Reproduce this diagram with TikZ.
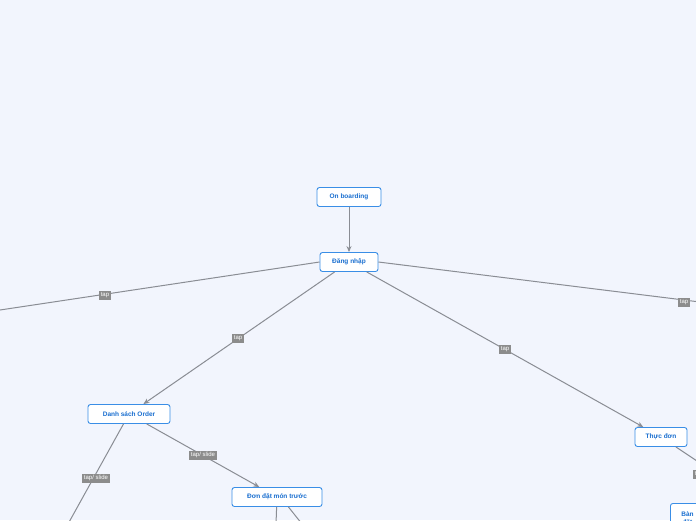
\documentclass[tikz,border=0pt]{standalone}
\usepackage{fontspec}
\setmainfont{Liberation Sans}
\usetikzlibrary{arrows.meta}
\definecolor{bg}{HTML}{F2F5FD}
\definecolor{nb}{HTML}{3A8EE6}
\definecolor{nt}{HTML}{1A6FD0}
\definecolor{ln}{HTML}{8A8D94}
\definecolor{lb}{HTML}{8C8C8C}
\tikzset{
 topic/.style={draw=nb,line width=0.9pt,fill=white,rounded corners=2.5pt,font=\fontsize{6.5}{7.5}\selectfont\bfseries,text=nt,inner sep=0pt,minimum height=19pt,align=center},
 conn/.style={draw=ln,line width=1pt},
 arr/.style={conn,-{Stealth[length=6pt,width=5pt]}},
 lab/.style={fill=lb,text=white,font=\fontsize{6}{7}\selectfont,inner sep=1.5pt,minimum height=9pt}
}
\begin{document}
\begin{tikzpicture}[x=1pt,y=-1pt]
\fill[bg] (0,0) rectangle (696,520);
\useasboundingbox (0,0) rectangle (696,520);
\clip (0,0) rectangle (696,520);
\node[topic,minimum width=64pt] (ob) at (349,197) {On boarding};
\node[topic,minimum width=58pt] (dn) at (349,262) {Đăng nhập};
\node[topic,minimum width=82pt] (ds) at (129,414) {Danh sách Order};
\node[topic,minimum width=90pt] (dd) at (277,497) {Đơn đặt món trước};
\node[topic,minimum width=52pt] (td) at (661,437) {Thực đơn};
\node[topic,minimum width=34pt,minimum height=30pt,anchor=north west] (ban) at (670,503) {Bàn\\đặt};
\coordinate (l1) at (0,310);
\coordinate (r1) at (700,302);
\coordinate (l2) at (68,524);
\coordinate (d1) at (276,524);
\coordinate (d2) at (302,524);
\coordinate (r2) at (700,463);
\draw[arr] (ob) -- (dn);
\draw[conn] (dn.west) -- (l1);
\draw[conn] (dn.east) -- (r1);
\draw[arr] (dn) -- (ds);
\draw[arr] (dn) -- (td);
\draw[arr] (ds) -- (dd);
\draw[conn] (ds) -- (l2);
\draw[conn] (dd) -- (d1);
\draw[conn] (dd.south east) ++(-34,0) -- (d2);
\draw[conn] (td) -- (r2);
\node[lab] at (105,295) {tap};
\node[lab] at (684,302) {tap};
\node[lab] at (238,338) {tap};
\node[lab] at (505,349) {tap};
\node[lab] at (203,455) {tap/ slide};
\node[lab] at (96,478) {tap/ slide};
\node[lab] at (699,474) {tap};
\end{tikzpicture}
\end{document}
